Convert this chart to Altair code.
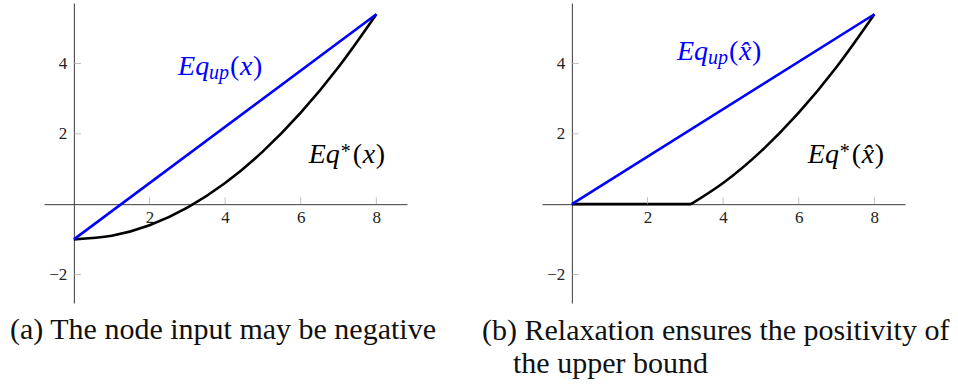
import altair as alt
import pandas as pd

# ---- data -------------------------------------------------------------
# (a) node input may be negative
a_curve_x = [0, 1, 2, 3, 4, 5, 6, 7, 8]
a_curve_y = [-1.0, -0.9, -0.6, -0.1, 0.6, 1.5, 2.6, 3.9, 5.4]
a_up_x = [0, 8]
a_up_y = [-1.0, 5.4]

# (b) relaxed version: clipped at zero
b_flat_x = [0, 3.15]
b_flat_y = [0, 0]
b_curve_x = [3.15, 4, 5, 6, 7, 8]
b_curve_y = [0, 0.6, 1.5, 2.6, 3.9, 5.4]
b_up_x = [0, 8]
b_up_y = [0, 5.4]

x_ticks = [2, 4, 6, 8]
y_ticks = [-2, 2, 4]

caption_a = "(a) The node input may be negative"
caption_b1 = "(b) Relaxation ensures the positivity of"
caption_b2 = "the upper bound"

# ---- styling ----------------------------------------------------------
SERIF = "Liberation Serif"
BLUE = "#0000ff"
BLACK = "#000000"
AXIS_COLOR = "#3a3a3a"
TICK_COLOR = "#a8a8a8"

X_DOMAIN = [-0.79, 8.81]
Y_DOMAIN = [-2.81, 5.72]
W, H = 363, 300

xs = alt.Scale(domain=X_DOMAIN, nice=False, zero=False)
ys = alt.Scale(domain=Y_DOMAIN, nice=False, zero=False)

# axes pass through the origin
x_off = -(H * (0 - Y_DOMAIN[0]) / (Y_DOMAIN[1] - Y_DOMAIN[0]))
y_off = -(W * (0 - X_DOMAIN[0]) / (X_DOMAIN[1] - X_DOMAIN[0]))

x_axis = alt.Axis(values=x_ticks, orient="bottom", offset=x_off, ticks=False,
                  grid=False, domainColor=AXIS_COLOR, domainWidth=1,
                  labelFont=SERIF, labelFontSize=17, labelColor="#222",
                  labelPadding=5, title=None)
y_axis = alt.Axis(values=y_ticks, orient="left", offset=y_off, ticks=False,
                  grid=False, domainColor=AXIS_COLOR, domainWidth=1,
                  labelFont=SERIF, labelFontSize=17, labelColor="#222",
                  labelPadding=7, title=None)

X_ENC = alt.X("x:Q", scale=xs, axis=x_axis)
Y_ENC = alt.Y("y:Q", scale=ys, axis=y_axis)


def line(xv, yv, color):
    df = pd.DataFrame({"x": xv, "y": yv})
    return alt.Chart(df).mark_line(
        interpolate="monotone", strokeWidth=2.6, color=color
    ).encode(x=X_ENC, y=Y_ENC)


def tick_marks():
    xt = pd.DataFrame({"x": x_ticks, "y": [0] * len(x_ticks)})
    yt = pd.DataFrame({"x": [0] * len(y_ticks), "y": y_ticks})
    t1 = alt.Chart(xt).mark_tick(orient="vertical", size=7, thickness=1,
                                 yOffset=-3.5, color=TICK_COLOR).encode(x=X_ENC, y=Y_ENC)
    t2 = alt.Chart(yt).mark_tick(orient="horizontal", size=7, thickness=1,
                                 xOffset=3.5, color=TICK_COLOR).encode(x=X_ENC, y=Y_ENC)
    return [t1, t2]


def math_label(x, y, pieces, color):
    """Math-style label built from pieces (text, dx, dy, size, style)."""
    df = pd.DataFrame({"x": [x], "y": [y]})
    out = []
    for text, dx, dy, size, style in pieces:
        out.append(
            alt.Chart(df).mark_text(
                text=text, dx=dx, dy=dy, fontSize=size, fontStyle=style,
                font=SERIF, align="left", baseline="alphabetic", color=color,
            ).encode(x=X_ENC, y=Y_ENC)
        )
    return out


def eq_up(x, y, var):
    return math_label(x, y, [
        ("Eq", 0, 0, 28, "italic"),
        ("up", 31, 4, 20, "italic"),
        ("(", 52, 0, 28, "normal"),
        (var, 62, 0, 28, "italic"),
        (")", 75, 0, 28, "normal"),
    ], BLUE)


def eq_star(x, y, var):
    return math_label(x, y, [
        ("Eq", 0, 0, 28, "italic"),
        ("*", 32, -5, 20, "normal"),
        ("(", 44, 0, 28, "normal"),
        (var, 54, 0, 28, "italic"),
        (")", 67, 0, 28, "normal"),
    ], BLACK)


def caption(text, x, y, align="left"):
    return alt.Chart(pd.DataFrame({"t": [text]})).mark_text(
        font=SERIF, fontSize=30, align=align, baseline="alphabetic", color="#111"
    ).encode(text="t:N", x=alt.value(x), y=alt.value(y))


panel_a = alt.layer(
    line(a_curve_x, a_curve_y, BLACK),
    line(a_up_x, a_up_y, BLUE),
    *tick_marks(),
    *eq_up(2.755, 3.66, "x"),
    *eq_star(6.21, 1.17, "x"),
    caption(caption_a, -34, 336),
).properties(width=W, height=H)

panel_b = alt.layer(
    line(b_flat_x, b_flat_y, BLACK),
    line(b_curve_x, b_curve_y, BLACK),
    line(b_up_x, b_up_y, BLUE),
    *tick_marks(),
    *eq_up(2.78, 4.09, "x\u0302"),
    *eq_star(6.24, 1.16, "x\u0302"),
    caption(caption_b1, -60, 337),
    caption(caption_b2, -29, 370),
).properties(width=W, height=H)

chart = alt.hconcat(panel_a, panel_b, spacing=135, bounds="flush").properties(
    padding={"left": 10, "top": 3, "right": 8, "bottom": 4},
    background="white",
).configure_view(stroke=None)

chart.save("out.html", embed_options={"renderer": "svg", "actions": False})
